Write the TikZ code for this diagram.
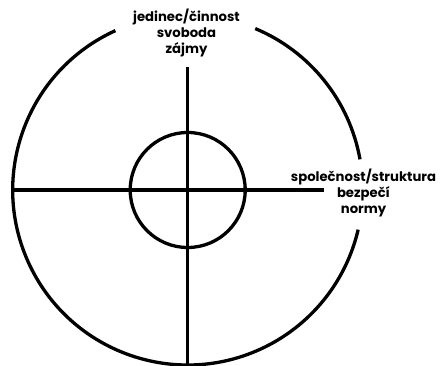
\documentclass[tikz,border=0pt]{standalone}
\usepackage{fontspec}
\setmainfont{Poppins}
\usepackage{tikz}

\begin{document}
\begin{tikzpicture}[x=1pt, y=1pt, line width=3.3pt,
    lbl/.style={align=center, font=\bfseries\fontsize{13.2}{15.8}\selectfont}]
    \useasboundingbox (0,0) rectangle (442,366);
    \coordinate (o) at (187.7,176);
    % outer ring, broken where the labels sit
    \draw (o) ++(114.4:175) arc (114.4:346.9:175);
    \draw (o) ++(10.1:175) arc (10.1:67.3:175);
    % axes
    \coordinate (top) at (187.7,299);
    \coordinate (bottom) at (187.7,1);
    \coordinate (left) at (12.7,176);
    \coordinate (right) at (324,176);
    \draw (top) -- (bottom);
    \draw (left) -- (right);
    \node[draw, circle, minimum size=115pt, inner sep=0pt] (core) at (o) {};
    \node[lbl] (self) at (186.5,333) {jedinec/činnost\\svoboda\\zájmy};
    \node[lbl] (society) at (363.5,173) {společnost/struktura\\bezpečí\\normy};
\end{tikzpicture}
\end{document}
